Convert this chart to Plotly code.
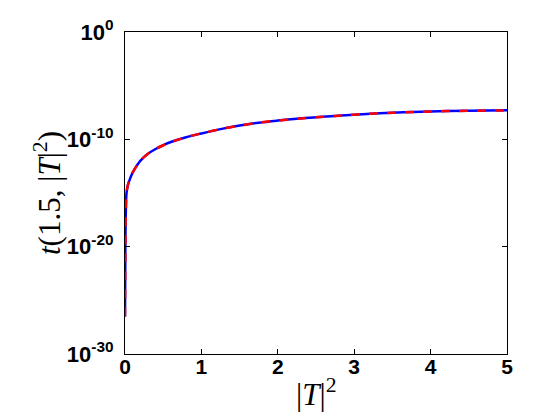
import plotly.graph_objects as go

# values (x = |T|^2, exponent of t)
x_vals = [0.0, 0.005, 0.01, 0.02, 0.04, 0.07, 0.1, 0.15, 0.2, 0.3, 0.4, 0.5, 0.6,
          0.8, 1.0, 1.25, 1.5, 1.75, 2.0, 2.25, 2.5, 2.75, 3.0, 3.5, 4.0, 4.5, 5.0]
log_t = [-26.5, -20.0, -17.0, -15.0, -14.2, -13.6, -13.1, -12.5, -12.0, -11.35, -10.9,
         -10.55, -10.25, -9.8, -9.45, -9.05, -8.72, -8.45, -8.25, -8.08, -7.95, -7.82,
         -7.7, -7.52, -7.4, -7.34, -7.3]
t_vals = [10 ** v for v in log_t]

y_ticks = [1e-30, 1e-20, 1e-10, 1]
y_ticktext = ["<b>10<sup>-30</sup></b>", "<b>10<sup>-20</sup></b>",
              "<b>10<sup>-10</sup></b>", "<b>10<sup>0</sup></b>"]
x_ticks = [0, 1, 2, 3, 4, 5]

fig = go.Figure()
fig.add_trace(go.Scatter(x=x_vals, y=t_vals, mode="lines",
                         line=dict(color="#0000ff", width=2.5), line_shape="spline"))
fig.add_trace(go.Scatter(x=x_vals, y=t_vals, mode="lines",
                         line=dict(color="#ff0000", width=2.5, dash="dash"),
                         line_shape="spline"))

axis_common = dict(showline=True, linecolor="black", linewidth=1, mirror="ticks",
                   ticks="inside", ticklen=5, tickcolor="black", showgrid=False,
                   zeroline=False, automargin=False)

tick_font = dict(family="Liberation Sans, Arial", size=21, color="black")
title_font = dict(family="Liberation Serif, Times New Roman", size=31, color="black")

# page has an 8px body margin, so margins are shifted to land the axes box
fig.update_layout(
    width=560, height=420,
    margin=dict(l=117, r=61, t=24, b=74),
    paper_bgcolor="white", plot_bgcolor="white",
    showlegend=False,
    xaxis=dict(range=[0, 5], tickvals=x_ticks,
               ticktext=["<b>%d</b>" % v for v in x_ticks],
               ticklabelstandoff=-6, tickfont=tick_font, **axis_common),
    yaxis=dict(type="log", range=[-30, 0], tickvals=y_ticks, ticktext=y_ticktext,
               ticklabelstandoff=6, tickfont=dict(tick_font, size=22), **axis_common),
    annotations=[
        dict(text="|<i>T</i>|<sup>2</sup>", xref="paper", yref="paper", x=0.5, y=0,
             xanchor="center", yanchor="middle", yshift=-38, showarrow=False,
             font=title_font),
        dict(text="<i>t</i>(1.5, |<i>T</i>|<sup>2</sup>)", xref="paper", yref="paper",
             x=0, y=0.5, xanchor="center", yanchor="middle", xshift=-78, textangle=-90,
             showarrow=False, font=title_font),
    ],
)

fig.write_html("out.html")
